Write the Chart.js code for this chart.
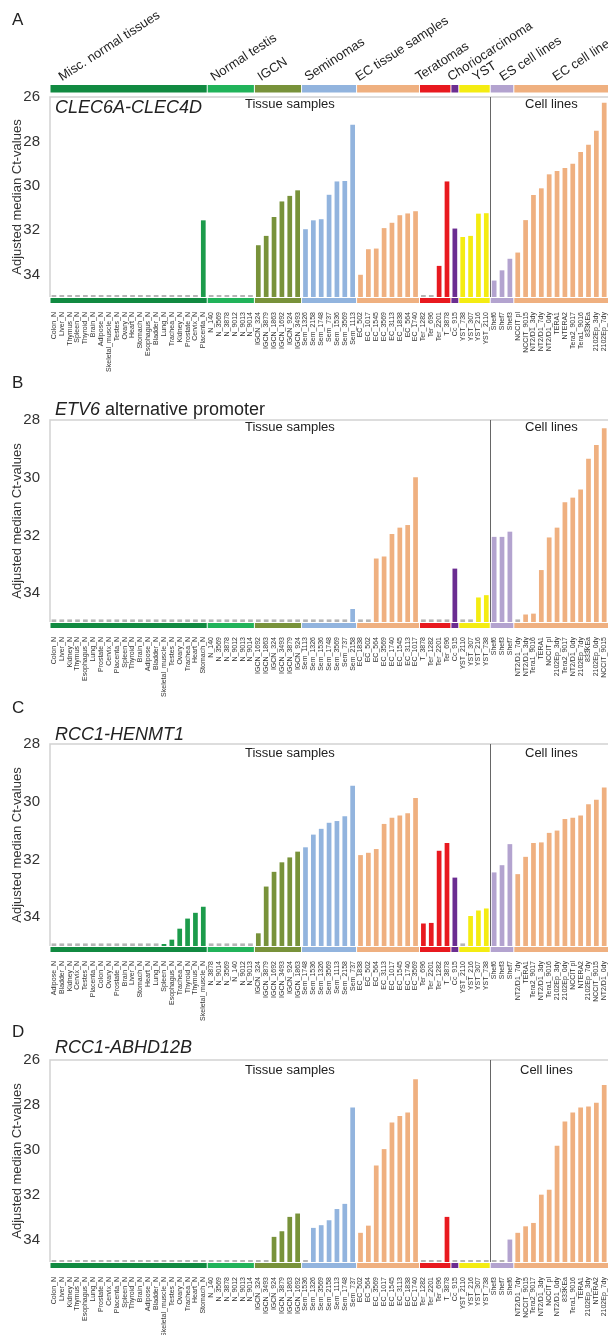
<!DOCTYPE html>
<html lang="en">
<head>
<meta charset="UTF-8">
<title>Adjusted median Ct-values</title>
<script src="https://cdn.jsdelivr.net/npm/chart.js"></script>
<style>
  body {margin:0; background:#fff; overflow:hidden; font-family:'Liberation Sans', Arial, sans-serif; color:#222;}
  #fig {position:relative; width:608px; height:1335px; overflow:hidden;}
  #fig canvas {position:absolute; left:0;}
  .t {position:absolute; white-space:nowrap; line-height:1;}
  .grp {position:absolute; top:70px; white-space:nowrap; font-size:13px; line-height:13px; transform-origin:0 100%; transform:rotate(-33deg);}
</style>
</head>
<body>
<div id="fig">
  <canvas id="chartA" width="616" height="390" style="top:0"></canvas>
  <canvas id="chartB" width="616" height="330" style="top:390px"></canvas>
  <canvas id="chartC" width="616" height="325" style="top:720px"></canvas>
  <canvas id="chartD" width="616" height="290" style="top:1045px"></canvas>

  <div class="t" style="left:12px;top:11px;font-size:17px">A</div>
  <div class="t" style="left:12px;top:373.6px;font-size:17px">B</div>
  <div class="t" style="left:12px;top:698.6px;font-size:17px">C</div>
  <div class="t" style="left:12px;top:1022.6px;font-size:17px">D</div>

  <div class="t" style="left:55px;top:97.8px;font-size:18px"><i>CLEC6A-CLEC4D</i></div>
  <div class="t" style="left:55px;top:400.3px;font-size:18px"><i>ETV6</i> alternative promoter</div>
  <div class="t" style="left:55px;top:724.8px;font-size:18px"><i>RCC1-HENMT1</i></div>
  <div class="t" style="left:55px;top:1037.8px;font-size:18px"><i>RCC1-ABHD12B</i></div>

  <div class="t" style="left:245px;top:97px;font-size:13px">Tissue samples</div>
  <div class="t" style="left:525px;top:97px;font-size:13px">Cell lines</div>
  <div class="t" style="left:245px;top:420px;font-size:13px">Tissue samples</div>
  <div class="t" style="left:525px;top:420px;font-size:13px">Cell lines</div>
  <div class="t" style="left:245px;top:746px;font-size:13px">Tissue samples</div>
  <div class="t" style="left:525px;top:746px;font-size:13px">Cell lines</div>
  <div class="t" style="left:245px;top:1063px;font-size:13px">Tissue samples</div>
  <div class="t" style="left:520px;top:1063px;font-size:13px">Cell lines</div>
</div>

<script>
  // sample groups (same order in every panel)
  const groupNames = ['Misc. normal tissues', 'Normal testis', 'IGCN', 'Seminomas', 'EC tissue samples',
                      'Teratomas', 'Choriocarcinoma', 'YST', 'ES cell lines', 'EC cell lines'];
  const groupSizes = [20, 6, 6, 7, 8, 4, 1, 4, 3, 13];
  const groupColors = ['#118a41', '#21b35a', '#78923a', '#92b4de', '#efb080',
                       '#e8191f', '#6b2d91', '#f4ec12', '#b3a3cf', '#efb080'];
  const barColors = ['#1c9b4b', '#21b35a', '#78923a', '#92b4de', '#efb080',
                     '#e8191f', '#6b2d91', '#f4ec12', '#b3a3cf', '#efb080'];
  const groupLabelX = [63, 215, 262, 309, 360, 420, 452, 477, 504, 557];

  // A  CLEC6A-CLEC4D   (null = not detected)
  const labelsA = ['Colon_N','Liver_N','Thymus_N','Spleen_N','Thyroid_N','Brain_N','Adipose_N','Skeletal_muscle_N','Testes_N','Ovary_N',
    'Heart_N','Stomach_N','Esophagus_N','Bladder_N','Lung_N','Trachea_N','Kidney_N','Prostate_N','Cervix_N','Placenta_N',
    'N_140','N_3569','N_3878','N_9012','N_9013','N_9014',
    'IGCN_324','IGCN_3879','IGCN_1863','IGCN_1692','IGCN_924','IGCN_3493',
    'Sem_1326','Sem_2158','Sem_1748','Sem_737','Sem_1536','Sem_3569','Sem_1113',
    'EC_502','EC_1017','EC_1545','EC_3569','EC_3113','EC_1838','EC_564','EC_1740',
    'Ter_1282','Ter_696','Ter_2201','T_3878','Cc_915',
    'YST_738','YST_307','YST_216','YST_2110','Shef6','Shef7','Shef3',
    'NCCIT pl','NCCIT_9015','NT2/D1_3dy','NT2/D1_7dy','NT2/D1_0dy','TERA1','NTERA2','Tera2_9017','Tera1_9016','833KEa',
    '2102Ep_3dy','2102Ep_7dy','2102Ep_0dy'];
  const valuesA = [null,null,null,null,null,null,null,null,null,null,
    null,null,null,null,null,null,null,null,null,31.55,
    null,null,null,null,null,null,
    32.67,32.25,31.4,30.7,30.45,30.2,
    31.95,31.55,31.5,30.4,29.8,29.78,27.25,
    34.0,32.85,32.82,31.9,31.66,31.32,31.24,31.14,
    null,null,33.6,29.8,31.92,
    32.3,32.25,31.25,31.23,34.26,33.8,33.28,
    33.0,31.54,30.41,30.11,29.48,29.33,29.2,29.0,28.48,28.15,
    27.52,26.26,26.1];

  // B  ETV6 alternative promoter
  const labelsB = ['Colon_N','Liver_N','Kidney_N','Thymus_N','Esophagus_N','Lung_N','Prostate_N','Cervix_N','Placenta_N','Spleen_N',
    'Thyroid_N','Brain_N','Adipose_N','Bladder_N','Skeletal_muscle_N','Testes_N','Ovary_N','Trachea_N','Heart_N','Stomach_N',
    'N_140','N_3569','N_3878','N_9012','N_9013','N_9014',
    'IGCN_1692','IGCN_1863','IGCN_324','IGCN_3493','IGCN_3879','IGCN_924',
    'Sem_1113','Sem_1326','Sem_1536','Sem_1748','Sem_3569','Sem_737','Sem_2158',
    'EC_1838','EC_502','EC_564','EC_3569','EC_1740','EC_1545','EC_3113','EC_1017',
    'T_3878','Ter_1282','Ter_2201','Ter_696','Cc_915',
    'YST_2110','YST_307','YST_216','YST_738','Shef6','Shef3','Shef7',
    'NT2/D1_7dy','NT2/D1_3dy','Tera1_9016','TERA1','NCCIT pl','2102Ep_3dy','Tera2_9017','NT2/D1_0dy','2102Ep_7dy','833KEa',
    '2102Ep_0dy','NCCIT_9015','NTERA2'];
  const valuesB = [null,null,null,null,null,null,null,null,null,null,
    null,null,null,null,null,null,null,null,null,null,
    null,null,null,null,null,null,
    null,null,null,null,null,null,
    null,null,null,null,null,null,34.55,
    null,null,32.8,32.73,31.95,31.73,31.64,29.98,
    null,null,null,null,33.15,
    null,null,34.15,34.07,32.05,32.05,31.87,
    null,34.74,34.71,33.2,32.07,31.73,30.85,30.69,30.41,29.34,
    28.87,28.29,28.1];

  // C  RCC1-HENMT1
  const labelsC = ['Adipose_N','Bladder_N','Kidney_N','Cervix_N','Testes_N','Placenta_N','Colon_N','Ovary_N','Prostate_N','Brain_N',
    'Liver_N','Stomach_N','Heart_N','Lung_N','Spleen_N','Esophagus_N','Trachea_N','Thyroid_N','Thymus_N','Skeletal_muscle_N',
    'N_3878','N_9014','N_3569','N_140','N_9012','N_9013',
    'IGCN_324','IGCN_3879','IGCN_1692','IGCN_3493','IGCN_924','IGCN_1863',
    'Sem_1748','Sem_1536','Sem_1326','Sem_3569','Sem_1113','Sem_2158','Sem_737',
    'EC_1838','EC_502','EC_564','EC_3113','EC_1017','EC_1545','EC_1740','EC_3569',
    'Ter_696','Ter_2201','Ter_1282','T_3878','Cc_915',
    'YST_2110','YST_216','YST_307','YST_738','Shef6','Shef3','Shef7',
    'NT2/D1_7dy','TERA1','Tera2_9017','NT2/D1_3dy','Tera1_9016','2102Ep_3dy','2102Ep_0dy','NCCIT pl','NTERA2','2102Ep_7dy',
    'NCCIT_9015','NT2/D1_0dy','833KEa'];
  const valuesC = [null,null,null,null,null,null,null,null,null,null,
    null,null,null,null,34.93,34.78,34.4,34.05,33.85,33.64,
    null,null,null,null,null,null,
    34.56,32.94,32.43,32.1,31.93,31.73,
    31.58,31.14,30.94,30.73,30.67,30.5,29.45,
    31.85,31.77,31.64,30.77,30.56,30.48,30.4,29.87,
    34.22,34.2,31.7,31.43,32.63,
    null,33.96,33.77,33.7,32.45,32.2,31.47,
    32.51,31.91,31.43,31.41,31.08,31.0,30.6,30.56,30.48,30.09,
    29.93,29.51,29.3];

  // D  RCC1-ABHD12B
  const labelsD = ['Colon_N','Liver_N','Kidney_N','Thymus_N','Esophagus_N','Lung_N','Prostate_N','Cervix_N','Placenta_N','Spleen_N',
    'Thyroid_N','Brain_N','Adipose_N','Bladder_N','Skeletal_muscle_N','Testes_N','Ovary_N','Trachea_N','Heart_N','Stomach_N',
    'N_140','N_3569','N_3878','N_9012','N_9013','N_9014',
    'IGCN_324','IGCN_3493','IGCN_924','IGCN_3879','IGCN_1863','IGCN_1692',
    'Sem_1536','Sem_1326','Sem_3569','Sem_2158','Sem_1113','Sem_1748','Sem_737',
    'EC_502','EC_564','EC_3569','EC_1017','EC_1545','EC_3113','EC_1838','EC_1740',
    'Ter_1282','Ter_2201','Ter_696','T_3878','Cc_915',
    'YST_2110','YST_216','YST_307','YST_738','Shef3','Shef7','Shef6',
    'NT2/D1_7dy','NCCIT_9015','Tera2_9017','NT2/D1_3dy','NCCIT pl','NT2/D1_0dy','833KEa','Tera1_9016','TERA1','2102Ep_3dy',
    'NTERA2','2102Ep_7dy','2102Ep_0dy'];
  const valuesD = [null,null,null,null,null,null,null,null,null,null,
    null,null,null,null,null,null,null,null,null,null,
    null,null,null,null,null,null,
    null,null,33.88,33.63,32.99,32.84,
    null,33.48,33.36,33.14,32.64,32.41,28.12,
    33.7,33.38,30.7,29.97,28.79,28.49,28.34,26.86,
    null,null,null,32.99,null,
    null,null,null,null,null,null,34.0,
    33.7,33.41,33.26,32.0,31.78,29.82,28.74,28.34,28.12,28.07,
    27.9,27.11,26.9];

  const Y_FLOOR = 35;      // bars grow up from the detection limit
  const ND_TOP = 34.91;    // grey stub drawn for samples not detected
  const DIVIDER = 56;      // first cell line column

  Chart.defaults.font.family = "'Liberation Sans', Arial, sans-serif";

  const colColors = [];
  groupSizes.forEach((n, g) => { for (let i = 0; i < n; i++) colColors.push(barColors[g]); });

  // frame, divider line and coloured group strips
  const decor = {
    id: 'decor',
    beforeDatasetsDraw(chart, args, opts) {
      const {ctx, chartArea: a, scales: {x}} = chart;
      const step = x.getPixelForValue(1) - x.getPixelForValue(0);
      ctx.save();
      ctx.strokeStyle = '#d2d2d2';
      ctx.lineWidth = 1.5;
      ctx.beginPath();
      ctx.moveTo(a.left, a.bottom);
      ctx.lineTo(a.left, a.top);
      ctx.lineTo(a.right, a.top);
      ctx.stroke();

      const xd = Math.round(x.getPixelForValue(DIVIDER) - step / 2) + 0.5;
      ctx.strokeStyle = '#666';
      ctx.lineWidth = 1;
      ctx.beginPath();
      ctx.moveTo(xd, a.top);
      ctx.lineTo(xd, a.bottom);
      ctx.stroke();

      let s = 0;
      groupSizes.forEach((n, g) => {
        const l = x.getPixelForValue(s) - step / 2 + 0.5;
        const r = x.getPixelForValue(s + n - 1) + step / 2 - 0.5;
        ctx.fillStyle = groupColors[g];
        ctx.fillRect(l, a.bottom + 1, r - l, 5);
        if (opts.topBand) ctx.fillRect(l, a.top - 12, r - l, 7.5);
        s += n;
      });
      ctx.restore();
    }
  };

  function makeChart(id, labels, values, yMin, padTop, xAxisH, topBand) {
    return new Chart(document.getElementById(id), {
      type: 'bar',
      data: {
        labels: labels,
        datasets: [
          {
            data: values.map(v => v === null ? null : [Y_FLOOR, v]),
            backgroundColor: colColors,
            grouped: false, barPercentage: 0.6, categoryPercentage: 1
          },
          {
            data: values.map(v => v === null ? [Y_FLOOR, ND_TOP] : null),
            backgroundColor: '#b5b5b5',
            grouped: false, barPercentage: 0.6, categoryPercentage: 1
          }
        ]
      },
      options: {
        responsive: false,
        animation: false,
        layout: { padding: { top: padTop, left: 0, right: 0, bottom: 0 } },
        plugins: {
          legend: { display: false },
          tooltip: { enabled: false },
          decor: { topBand: topBand }
        },
        scales: {
          x: {
            grid: { display: false },
            border: { display: false },
            ticks: { autoSkip: false, minRotation: 90, maxRotation: 90, padding: 7, color: '#333', font: { size: 7 } },
            afterFit: s => { s.height = xAxisH; s.paddingLeft = 0; s.paddingRight = 0; }
          },
          y: {
            reverse: true,
            min: yMin,
            max: Y_FLOOR,
            grid: { display: false },
            border: { display: false },
            ticks: { stepSize: 2, padding: 2, color: '#333', font: { size: 15 } },
            afterBuildTicks: s => { s.ticks = s.ticks.filter(t => t.value % 2 === 0); },
            afterFit: s => { s.width = 50; },
            title: {
              display: true, text: 'Adjusted median Ct-values', color: '#333',
              font: { size: 13 }, padding: { top: 10, bottom: 0 }
            }
          }
        }
      },
      plugins: [decor]
    });
  }

  makeChart('chartA', labelsA, valuesA, 26, 97, 93, true);
  makeChart('chartB', labelsB, valuesB, 28, 30, 98, false);
  makeChart('chartC', labelsC, valuesC, 28, 24, 99, false);
  makeChart('chartD', labelsD, valuesD, 26, 15, 73, false);

  // rotated group names above panel A
  const fig = document.getElementById('fig');
  groupNames.forEach((name, g) => {
    const d = document.createElement('div');
    d.className = 'grp';
    d.style.left = groupLabelX[g] + 'px';
    d.textContent = name;
    fig.appendChild(d);
  });
</script>
</body>
</html>
